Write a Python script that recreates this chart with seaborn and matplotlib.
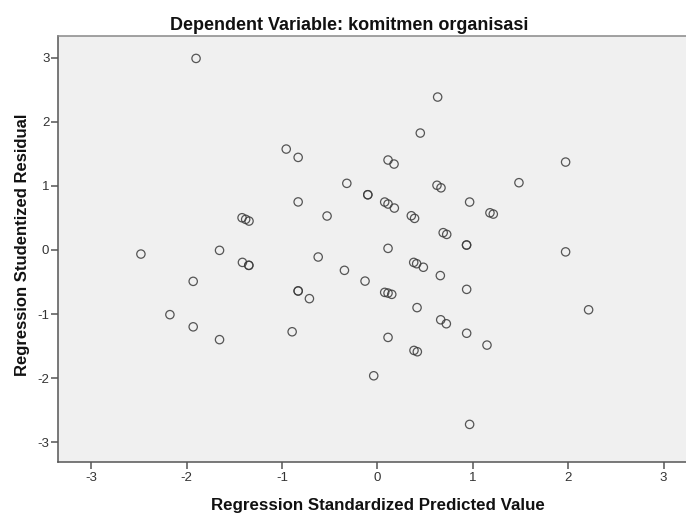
import matplotlib
matplotlib.use("Agg")
import matplotlib.pyplot as plt
import seaborn as sns
import pandas as pd

# Regression Standardized Predicted Value
pred = [-1.90, -0.955, -0.83, -0.32, -0.83, -0.527, -1.418, -1.380, -1.345,
        0.632, 0.45, 0.112, 0.175, 1.973, 1.484, -0.10, -0.10, 0.625, 0.667,
        0.077, 0.112, 0.178, 0.356, 0.39, 0.967, 1.18, 1.215, 0.69, 0.727,
        0.935, 0.935, 0.112, 1.973,
        -2.478, -1.654, -1.414, -1.347, -1.347, -0.62, -0.345, -1.93, -0.83, -0.83,
        -0.712, -2.174, -1.93, -1.654, -0.893,
        0.381, 0.412, 0.482, -0.129, 0.66, 0.077, 0.112, 0.151, 0.936, 0.416,
        2.214, 0.664, 0.723, 0.936, 1.149, 0.112, 0.384, 0.419, -0.038, 0.967]
# Regression Studentized Residual
resid = [2.99, 1.575, 1.445, 1.04, 0.75, 0.53, 0.503, 0.478, 0.451,
         2.387, 1.825, 1.404, 1.341, 1.372, 1.05, 0.862, 0.862, 1.01, 0.97,
         0.748, 0.717, 0.654, 0.534, 0.493, 0.748, 0.58, 0.56, 0.27, 0.243,
         0.077, 0.077, 0.025, -0.03,
         -0.064, -0.006, -0.194, -0.24, -0.24, -0.11, -0.318, -0.49, -0.64, -0.64,
         -0.76, -1.01, -1.20, -1.40, -1.277,
         -0.194, -0.215, -0.27, -0.486, -0.40, -0.662, -0.673, -0.693, -0.615, -0.90,
         -0.934, -1.09, -1.152, -1.30, -1.485, -1.365, -1.568, -1.589, -1.964, -2.723]
ticks = [-3, -2, -1, 0, 1, 2, 3]

df = pd.DataFrame({"pred": pred, "resid": resid})

sns.set_style("ticks")
plt.rcParams['font.family'] = ['Liberation Sans', 'DejaVu Sans']

W, H = 686, 516
L, R, T, B = 57.7, 697.0, 36.0, 462.0
fig = plt.figure(figsize=(6.86, 5.16), dpi=100)
ax = fig.add_axes([L / W, 1 - B / H, (R - L) / W, (B - T) / H])
ax.set_facecolor("#F0F0F0")

sns.scatterplot(data=df, x="pred", y="resid", ax=ax, marker="o", s=36,
                facecolor="none", edgecolor="#3a3a3a", linewidth=0.9, alpha=0.85)

ax.set_xlim(-3.35, 3.35)
ax.set_ylim(-3.31, 3.34)
ax.set_xticks(ticks)
ax.set_yticks(ticks)
ax.set_xticklabels([str(t) for t in ticks])
ax.set_yticklabels([str(t) for t in ticks])

for side in ["left", "bottom", "top"]:
    ax.spines[side].set_visible(True)
    ax.spines[side].set_color("#555555")
    ax.spines[side].set_linewidth(1.1)
ax.spines["top"].set_color("#888888")
ax.spines["right"].set_visible(False)

ax.tick_params(axis="both", direction="out", length=5, width=1.1, color="#555555",
               labelsize=9.5, labelcolor="#333333")
ax.tick_params(axis="y", pad=1)
ax.tick_params(axis="x", pad=2.5)

ax.set_xlabel("Regression Standardized Predicted Value", fontsize=12.2,
              fontweight="bold", color="#111111")
ax.xaxis.label.set_va("baseline")
ax.xaxis.set_label_coords((377.5 - L) / (R - L), -(510 - B) / (B - T))

ax.set_ylabel("Regression Studentized Residual", fontsize=12,
              fontweight="bold", color="#111111")
ax.yaxis.label.set_va("baseline")
ax.yaxis.set_label_coords((26.7 - L) / (R - L), (B - 245) / (B - T))

fig.text(349 / W, 1 - 29.5 / H, "Dependent Variable: komitmen organisasi",
         ha="center", va="baseline", fontsize=13, fontweight="bold", color="#111111")

fig.savefig("out.png", dpi=100)
